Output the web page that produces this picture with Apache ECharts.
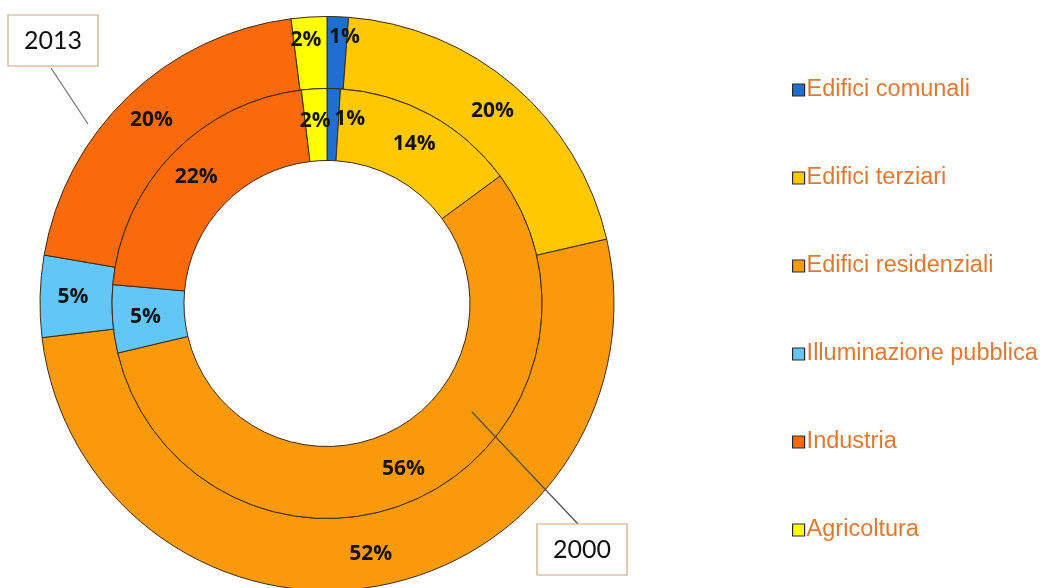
<!DOCTYPE html>
<html>
<head>
<meta charset="utf-8">
<script src="https://cdn.jsdelivr.net/npm/echarts@6/dist/echarts.min.js"></script>
<style>
html,body{margin:0;padding:0;background:#fff;}
#c{width:1045px;height:588px;}
</style>
</head>
<body>
<div id="c"></div>
<script>
const categories = ['Edifici comunali','Edifici terziari','Edifici residenziali','Illuminazione pubblica','Industria','Agricoltura'];
const colors = ['#1F6FD2','#FFC800','#FA9A0A','#62C6F7','#FA6A0A','#FFFF00'];
const values2013 = [1.2, 20.2, 51.7, 4.6, 20.3, 2.0];
const values2000 = [1.0, 13.9, 56.4, 5.1, 21.7, 1.9];
const seriesNames = ['2013','2000'];
// label nudges for the two thin slices (comunali, agricoltura)
const nudge2013 = {0:[8,-13], 5:[-5,-10]};
const nudge2000 = {0:[17,-3], 5:[-1,-1]};

function mk(vals, nudge){
  return categories.map((n,i)=>{
    const d = {name:n, value:vals[i], itemStyle:{color:colors[i]}};
    if (nudge[i]) d.label = {offset:nudge[i]};
    return d;
  });
}

const labelCfg = {
  show:true, position:'inside',
  formatter: p => Math.round(p.value) + '%',
  fontFamily:'Open Sans', fontWeight:'bold', fontSize:21, color:'#141414'
};
const itemStyleCfg = {borderColor:'#3a2a1a', borderWidth:1};

const chart = echarts.init(document.getElementById('c'), null, {renderer:'canvas'});
chart.setOption({
  animation:false,
  color: colors,
  legend:{
    orient:'vertical', left:787, top:73, itemGap:64,
    itemWidth:12, itemHeight:12, icon:'rect', itemTextGap:5,
    itemStyle:{borderColor:'#2a2a2a', borderWidth:1.2},
    textStyle:{fontFamily:'Liberation Sans', fontSize:23.5, lineHeight:24, color:'#E0792F', padding:[0,0,0,-3]},
    data: categories,
    selectedMode:false
  },
  series:[
    {name:seriesNames[0], type:'pie', center:[327,303.5], radius:[215,287], startAngle:90,
     avoidLabelOverlap:false, labelLayout:{hideOverlap:false},
     label:labelCfg, labelLine:{show:false}, itemStyle:itemStyleCfg, emphasis:{disabled:true}, data:mk(values2013, nudge2013)},
    {name:seriesNames[1], type:'pie', center:[327,303.5], radius:[143,215], startAngle:90,
     avoidLabelOverlap:false, labelLayout:{hideOverlap:false},
     label:labelCfg, labelLine:{show:false}, itemStyle:itemStyleCfg, emphasis:{disabled:true}, data:mk(values2000, nudge2000)}
  ],
  graphic:[
    {type:'line', shape:{x1:51,y1:68,x2:88,y2:124}, style:{stroke:'#6f6f6f', lineWidth:1.2}, z:10},
    {type:'rect', shape:{x:8,y:15,width:90,height:51}, style:{fill:'#fff', stroke:'#D4A474', lineWidth:1.2}, z:10},
    {type:'text', x:53, y:41, style:{text:seriesNames[0], fontFamily:'Lato', fontSize:25, fill:'#111', align:'center', verticalAlign:'middle'}, z:11},
    {type:'line', shape:{x1:472,y1:412,x2:578,y2:524}, style:{stroke:'#4f4f4f', lineWidth:1.2}, z:10},
    {type:'rect', shape:{x:537,y:524,width:90,height:51}, style:{fill:'#fff', stroke:'#D4A474', lineWidth:1.2}, z:10},
    {type:'text', x:582, y:550, style:{text:seriesNames[1], fontFamily:'Lato', fontSize:25, fill:'#111', align:'center', verticalAlign:'middle'}, z:11}
  ]
});
</script>
</body>
</html>
